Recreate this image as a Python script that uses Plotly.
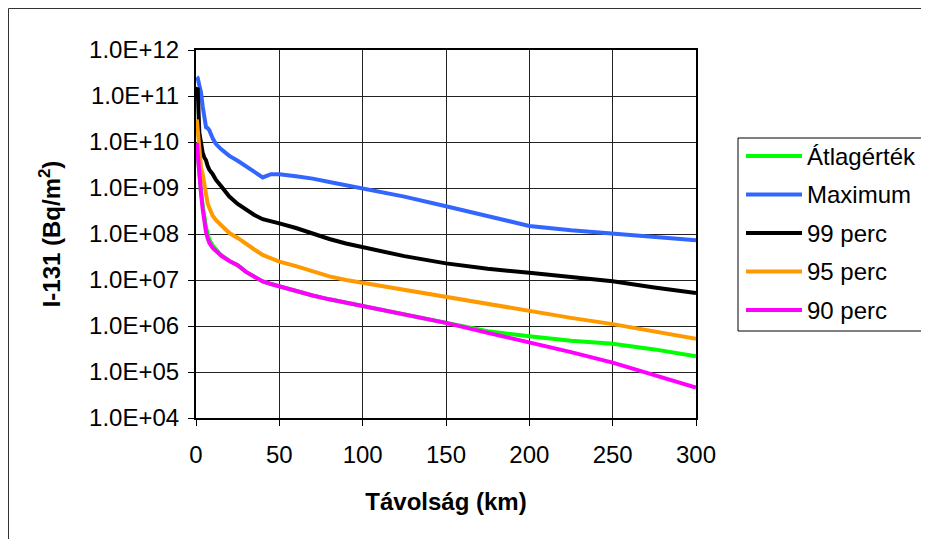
import plotly.graph_objects as go

# ---- data ----
distance_km = [0.5, 1, 2, 3, 4, 5, 6, 7, 8, 10, 12, 15, 20, 25, 30, 35, 40, 45, 50,
               60, 70, 80, 90, 100, 125, 150, 175, 200, 225, 250, 275, 300]

atlag = [9.6e9, 5e9, 1.6e9, 8e8, 4.2e8, 2.2e8, 1.4e8, 1.0e8, 7.5e7, 5.6e7, 4.5e7, 3.5e7,
         2.6e7, 2.1e7, 1.5e7, 1.15e7, 9.3e6, 8.2e6, 7.3e6,
         5.7e6, 4.6e6, 3.8e6, 3.2e6, 2.7e6, 1.8e6, 1.17e6, 7.7e5, 6.0e5, 4.8e5, 4.1e5, 3.1e5, 2.2e5]

maximum = [2.6e11, 2.5e11, 1.7e11, 1.2e11, 6e10, 3e10, 2.1e10, 2.0e10, 1.8e10, 1.2e10, 9e9, 7e9,
           5e9, 3.9e9, 3.0e9, 2.2e9, 1.7e9, 2.0e9, 2.0e9,
           1.8e9, 1.6e9, 1.35e9, 1.15e9, 1.0e9, 6.5e8, 4.0e8, 2.4e8, 1.5e8, 1.2e8, 1.02e8, 8.7e7, 7.3e7]

perc99 = [1.4e11, 1.5e11, 1.6e10, 8e9, 5.8e9, 4.6e9, 4.0e9, 3.0e9, 2.5e9, 2.0e9, 1.5e9, 1.1e9,
          6.5e8, 4.5e8, 3.4e8, 2.6e8, 2.1e8, 1.85e8, 1.7e8,
          1.35e8, 1.0e8, 7.8e7, 6.2e7, 5.2e7, 3.3e7, 2.3e7, 1.75e7, 1.43e7, 1.17e7, 9.4e6, 6.9e6, 5.2e6]

perc95 = [3.1e10, 2e10, 5e9, 2.8e9, 2.0e9, 1.1e9, 6e8, 4.6e8, 3.7e8, 2.5e8, 2.0e8, 1.55e8,
          1.05e8, 8.2e7, 6.0e7, 4.6e7, 3.5e7, 2.9e7, 2.5e7,
          2.0e7, 1.55e7, 1.2e7, 1.0e7, 8.7e6, 5.9e6, 4.2e6, 3.0e6, 2.1e6, 1.5e6, 1.1e6, 7.7e5, 5.3e5]

perc90 = [9.6e9, 5e9, 1.6e9, 8e8, 3.5e8, 1.7e8, 1.1e8, 8e7, 6.4e7, 5.0e7, 4.2e7, 3.4e7,
          2.6e7, 2.1e7, 1.5e7, 1.15e7, 9.3e6, 8.2e6, 7.3e6,
          5.7e6, 4.6e6, 3.8e6, 3.2e6, 2.7e6, 1.78e6, 1.17e6, 7.1e5, 4.4e5, 2.7e5, 1.6e5, 8.7e4, 4.6e4]

series_names = ["Átlagérték", "Maximum", "99 perc", "95 perc", "90 perc"]
series_values = [atlag, maximum, perc99, perc95, perc90]
series_colors = ["#00FF00", "#3366FF", "#000000", "#FF9900", "#FF00FF"]

y_tickvals = [1e4, 1e5, 1e6, 1e7, 1e8, 1e9, 1e10, 1e11, 1e12]
y_ticktext = ["1.0E+04", "1.0E+05", "1.0E+06", "1.0E+07", "1.0E+08",
              "1.0E+09", "1.0E+10", "1.0E+11", "1.0E+12"]
x_tickvals = [0, 50, 100, 150, 200, 250, 300]

FONT = "Liberation Sans, Arial, sans-serif"
FS = 24

fig = go.Figure()
for i in range(len(series_names)):
    fig.add_trace(go.Scatter(
        x=distance_km, y=series_values[i], name=series_names[i], mode="lines",
        line=dict(color=series_colors[i], width=4), showlegend=False))

# page has an 8px body margin; geometry below is in page pixels
OFF = 8
W, H = 929 - OFF, 539 - OFF
PL, PR, PT, PB = 196, 696, 50, 418          # plot area in page pixels
L, T = PL - OFF, PT - OFF
R = W - (PR - OFF)
B = H - (PB - OFF)
pw, ph = PR - PL, PB - PT

def px_x(px):
    return (px - PL) / pw

def px_y(py):
    return (PB - py) / ph

shapes = []
annotations = []
# outer chart frame (as close to the page edge as the figure allows)
shapes.append(dict(type="rect", xref="paper", yref="paper",
                   x0=px_x(OFF + 0.5), x1=px_x(990), y0=px_y(600), y1=px_y(OFF + 0.5),
                   line=dict(color="#333333", width=1), fillcolor="rgba(0,0,0,0)", layer="below"))
# legend box
shapes.append(dict(type="rect", xref="paper", yref="paper",
                   x0=px_x(738), x1=px_x(990), y0=px_y(331), y1=px_y(138),
                   line=dict(color="#000000", width=1), fillcolor="white"))
leg_y = [156, 194.5, 233, 271.5, 310]
for name, color, yy in zip(series_names, series_colors, leg_y):
    shapes.append(dict(type="line", xref="paper", yref="paper",
                       x0=px_x(746), x1=px_x(802), y0=px_y(yy), y1=px_y(yy),
                       line=dict(color=color, width=4)))
    annotations.append(dict(xref="paper", yref="paper", x=px_x(805), y=px_y(yy),
                            xanchor="left", yanchor="middle", text=name, showarrow=False,
                            font=dict(family=FONT, size=FS, color="black")))

fig.update_layout(
    width=W, height=H,
    margin=dict(l=L, r=R, t=T, b=B, pad=0),
    paper_bgcolor="white", plot_bgcolor="white",
    font=dict(family=FONT, size=FS, color="black"),
    showlegend=False,
    shapes=shapes, annotations=annotations,
    xaxis=dict(range=[0, 300], tickvals=x_tickvals, ticks="outside", ticklen=6,
               tickcolor="black", tickwidth=1,
               showgrid=True, gridcolor="#222222", gridwidth=1,
               showline=True, linecolor="black", linewidth=2, mirror=True,
               zeroline=False, ticklabelstandoff=8,
               title=dict(text="<b>Távolság (km)</b>", font=dict(size=FS), standoff=26)),
    yaxis=dict(type="log", range=[4, 12], tickvals=y_tickvals, ticktext=y_ticktext,
               ticks="outside", ticklen=6, tickcolor="black", tickwidth=1,
               showgrid=True, gridcolor="#222222", gridwidth=1,
               showline=True, linecolor="black", linewidth=2, mirror=True,
               zeroline=False, ticklabelstandoff=4,
               title=dict(text="<b>I-131 (Bq/m<sup>2</sup>)</b>", font=dict(size=FS), standoff=22)),
)

fig.write_html("out.html")
